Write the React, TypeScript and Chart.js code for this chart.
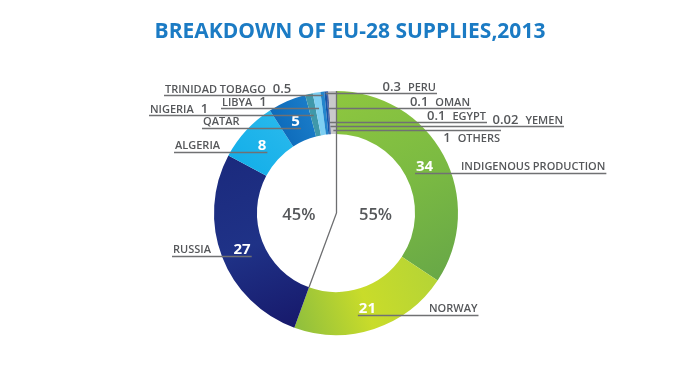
import React, { useEffect, useRef } from "react";
import { Chart, registerables } from "chart.js";

Chart.register(...registerables);

// ---------- data ----------
const titleText = "BREAKDOWN OF EU-28 SUPPLIES,2013";
const categories = [
  "INDIGENOUS PRODUCTION",
  "NORWAY",
  "RUSSIA",
  "ALGERIA",
  "QATAR",
  "NIGERIA",
  "LIBYA",
  "TRINIDAD TOBAGO",
  "PERU",
  "OMAN",
  "EGYPT",
  "YEMEN",
  "OTHERS",
];
const values = [34, 21, 27, 8, 5, 1, 1, 0.5, 0.3, 0.1, 0.1, 0.02, 1];
const valueLabels = ["34", "21", "27", "8", "5", "1", "1", "0.5", "0.3", "0.1", "0.1", "0.02", "1"];
const shareLabels = ["45%", "55%"];

// ---------- styles ----------
const sliceColors: string[][] = [
  ["#8ec73f", "#7cbb42", "#68a847"],
  ["#b5d436", "#c9dc2a", "#8ebe3e"],
  ["#17196b", "#1f3287", "#1b2a7d"],
  ["#14afe9", "#27b8ec"],
  ["#0d6bbb", "#1a7cc8"],
  ["#3f98aa"],
  ["#7dcff2"],
  ["#2385cc"],
  ["#1556a8"],
  ["#1d3b8c"],
  ["#233f91"],
  ["#142060"],
  ["#c9c9cb"],
];

type LabelCfg = {
  kind: "inside" | "outside";
  side: "left" | "right";
  dx: number;
  lineDy?: number;
  below?: boolean;
};

const labelLayout: LabelCfg[] = [
  { kind: "inside", side: "right", dx: 125 },
  { kind: "inside", side: "right", dx: 93 },
  { kind: "inside", side: "left", dx: -163 },
  { kind: "inside", side: "left", dx: -161 },
  { kind: "inside", side: "left", dx: -133 },
  { kind: "outside", side: "left", dx: -186, lineDy: -98 },
  { kind: "outside", side: "left", dx: -114, lineDy: -105 },
  { kind: "outside", side: "left", dx: -171, lineDy: -118 },
  { kind: "outside", side: "right", dx: 100, lineDy: -120 },
  { kind: "outside", side: "right", dx: 134, lineDy: -105 },
  { kind: "outside", side: "right", dx: 150, lineDy: -91 },
  { kind: "outside", side: "right", dx: 227, lineDy: -87 },
  { kind: "outside", side: "right", dx: 164, lineDy: -83, below: true },
];

const TEXT = "#55575a";
const LINE = "#707173";
const FONT = "'Open Sans', 'DejaVu Sans', sans-serif";
const nameFont = `600 11px ${FONT}`;
const valFont = `600 13px ${FONT}`;
const innerFont = `700 15px ${FONT}`;

const total = values.reduce((a, b) => a + b, 0);

function sliceAngles(i: number) {
  let before = 0;
  for (let k = 0; k < i; k++) before += values[k];
  const a0 = (before / total) * Math.PI * 2 - Math.PI / 2;
  const a1 = ((before + values[i]) / total) * Math.PI * 2 - Math.PI / 2;
  return [a0, a1];
}

function sliceBackground(context: any) {
  const i = context.dataIndex;
  const stops = sliceColors[i];
  const chart = context.chart;
  const area = chart.chartArea;
  if (stops.length === 1 || !area) return stops[0];
  const cx = (area.left + area.right) / 2;
  const cy = (area.top + area.bottom) / 2;
  const R = Math.min(area.right - area.left, area.bottom - area.top) / 2;
  const [a0, a1] = sliceAngles(i);
  const g = chart.ctx.createLinearGradient(
    cx + R * Math.cos(a0),
    cy + R * Math.sin(a0),
    cx + R * Math.cos(a1),
    cy + R * Math.sin(a1)
  );
  stops.forEach((c, k) => g.addColorStop(k / (stops.length - 1), c));
  return g;
}

const labelPlugin = {
  id: "sliceLabels",
  afterDatasetsDraw(chart: any) {
    const ctx: CanvasRenderingContext2D = chart.ctx;
    const arcs = chart.getDatasetMeta(0).data;
    const first = arcs[0].getProps(["x", "y", "outerRadius", "innerRadius"], true);
    const cx = first.x;
    const cy = first.y;
    const R = first.outerRadius;
    const r = first.innerRadius;
    const rm = (R + r) / 2;

    ctx.save();
    ctx.lineWidth = 1.3;
    ctx.strokeStyle = LINE;

    const hline = (x1: number, x2: number, y: number) => {
      ctx.beginPath();
      ctx.moveTo(x1, Math.round(y) + 0.5);
      ctx.lineTo(x2, Math.round(y) + 0.5);
      ctx.stroke();
    };

    labelLayout.forEach((cfg, i) => {
      const arc = arcs[i].getProps(["startAngle", "endAngle"], true);
      const mid = (arc.startAngle + arc.endAngle) / 2;
      ctx.font = nameFont;
      const nameW = ctx.measureText(categories[i]).width;
      ctx.font = valFont;
      const valW = ctx.measureText(valueLabels[i]).width;
      const gap = 7;

      if (cfg.kind === "inside") {
        const nx = cx + rm * Math.cos(mid);
        const ny = cy + rm * Math.sin(mid);
        ctx.font = innerFont;
        const w = ctx.measureText(valueLabels[i]).width;
        const lineY = ny + 7;
        const tx = cx + cfg.dx;
        if (cfg.side === "right") hline(nx - w / 2 - 1, tx + nameW + 1, lineY);
        else hline(tx - 1, nx + w / 2 + 1, lineY);
        ctx.fillStyle = "#ffffff";
        ctx.textAlign = "center";
        ctx.textBaseline = "alphabetic";
        ctx.fillText(valueLabels[i], nx, ny + 5);
        ctx.font = nameFont;
        ctx.fillStyle = TEXT;
        ctx.textAlign = "left";
        ctx.fillText(categories[i], tx, lineY - 3);
      } else {
        const lineY = cy + (cfg.lineDy as number);
        const rho = (cy - lineY) / Math.max(0.2, -Math.sin(mid));
        const sx = cx + rho * Math.cos(mid);
        const base = cfg.below ? lineY + 12 : lineY - 2;
        ctx.fillStyle = TEXT;
        ctx.textBaseline = "alphabetic";
        ctx.textAlign = "left";
        if (cfg.side === "left") {
          const tx = cx + cfg.dx;
          hline(tx - 1, sx, lineY);
          ctx.font = nameFont;
          ctx.fillText(categories[i], tx, base);
          ctx.font = valFont;
          ctx.fillText(valueLabels[i], tx + nameW + gap, base);
        } else {
          const te = cx + cfg.dx;
          hline(sx, te + 1, lineY);
          const tx = te - nameW - gap - valW;
          ctx.font = valFont;
          ctx.fillText(valueLabels[i], tx, base);
          ctx.font = nameFont;
          ctx.fillText(categories[i], tx + valW + gap, base);
        }
      }
    });

    // 45% / 55% divider
    const split = arcs[1].getProps(["endAngle"], true).endAngle;
    ctx.strokeStyle = "#6d6e70";
    ctx.lineWidth = 1.3;
    ctx.beginPath();
    ctx.moveTo(cx + 0.5, cy - R);
    ctx.lineTo(cx + 0.5, cy);
    ctx.lineTo(cx + r * Math.cos(split), cy + r * Math.sin(split));
    ctx.stroke();

    ctx.font = `600 16.5px ${FONT}`;
    ctx.fillStyle = TEXT;
    ctx.textAlign = "center";
    ctx.textBaseline = "middle";
    ctx.fillText(shareLabels[0], cx - r * 0.47, cy + 2);
    ctx.fillText(shareLabels[1], cx + r * 0.5, cy + 2);

    // title
    ctx.font = `700 21px ${FONT}`;
    ctx.fillStyle = "#1b7bc4";
    ctx.textAlign = "center";
    ctx.textBaseline = "alphabetic";
    ctx.fillText(titleText, chart.width / 2 + 5, 38);
    ctx.restore();
  },
};

export default function App() {
  const canvasRef = useRef<HTMLCanvasElement | null>(null);

  useEffect(() => {
    if (!canvasRef.current) return;
    const chart = new Chart(canvasRef.current, {
      type: "doughnut",
      data: {
        labels: categories,
        datasets: [
          {
            data: values,
            backgroundColor: sliceBackground as any,
            borderWidth: 0,
            hoverOffset: 0,
          },
        ],
      },
      options: {
        animation: false,
        responsive: true,
        maintainAspectRatio: false,
        cutout: "64.8%",
        events: [],
        layout: { padding: { top: 91, bottom: 53, left: 0, right: 18 } },
        plugins: {
          legend: { display: false },
          tooltip: { enabled: false },
          title: { display: false },
        },
      },
      plugins: [labelPlugin],
    });
    return () => chart.destroy();
  }, []);

  return (
    <div
      style={{
        position: "absolute",
        left: 0,
        top: 0,
        width: 690,
        height: 388,
        background: "#ffffff",
      }}
    >
      <canvas ref={canvasRef} />
    </div>
  );
}
